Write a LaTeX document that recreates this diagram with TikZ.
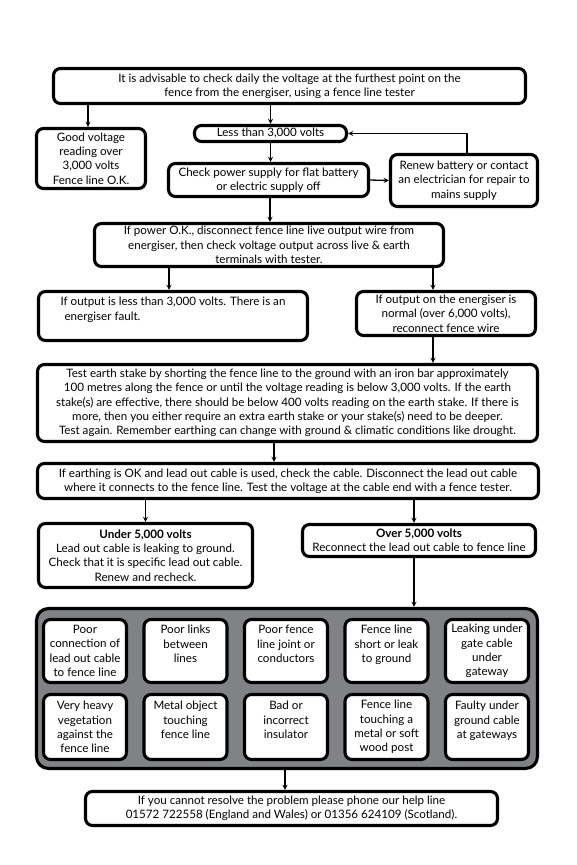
\documentclass[tikz,border=0pt]{standalone}
\usepackage{fontspec}
\setmainfont{Lato}
\definecolor{panelgray}{RGB}{128,130,133}
\begin{document}
\begin{tikzpicture}[x=1pt, y=-1pt, line join=round, >=stealth, font=\fontsize{11.6}{14.3}\selectfont]

		\tikzset{box/.style={draw, line width=3.1pt, rounded corners=7pt, fill=white, align=center, inner sep=1pt},
			cell/.style={box, minimum width=83pt},
			link/.style={->, line width=1.3pt}}

		\useasboundingbox (0,0) rectangle (577,865);

		\node[box, minimum width=472pt, minimum height=35pt] (tester) at (289.5,86) {It is advisable to check daily the voltage at the furthest point on the\\ fence from the energiser, using a fence line tester};
		\node[box, minimum width=109pt, minimum height=60pt] (good) at (91,158.5) {Good voltage\\ reading over\\ 3,000 volts\\ Fence line O.K.};
		\node[box, minimum width=152pt, minimum height=16pt, inner sep=0pt] (less) at (270.5,133.5) {Less than 3,000 volts};
		\node[box, minimum width=200pt, minimum height=33pt] (check) at (268.5,180) {Check power supply for flat battery\\ or electric supply off};
		\node[box, minimum width=147pt, minimum height=52pt] (renew) at (464,180.5) {Renew battery or contact\\ an electrician for repair to\\ mains supply};
		\node[box, minimum width=349pt, minimum height=43pt] (power) at (269,245) {If power O.K., disconnect fence line live output wire from\\ energiser, then check voltage output across live \& earth\\ terminals with tester.};
		\node[box, align=left, minimum width=269pt, minimum height=49pt] (lowout) at (173,316) {If output is less than 3,000 volts. There is an\\ \hspace*{4pt}energiser fault.\\ ~};
		\node[box, minimum width=179pt, minimum height=44pt] (normal) at (446,313.5) {If output on the energiser is\\ normal (over 6,000 volts),\\ reconnect fence wire};
		\node[box, minimum width=500pt, minimum height=77pt, inner sep=0pt] (earth) at (287.5,403) {Test earth stake by shorting the fence line to the ground with an iron bar approximately\\ 100 metres along the fence or until the voltage reading is below 3,000 volts. If the earth\\ stake(s) are effective, there should be below 400 volts reading on the earth stake. If there is\\ more, then you either require an extra earth stake or your stake(s) need to be deeper.\\ Test again. Remember earthing can change with ground \& climatic conditions like drought.};
		\node[box, minimum width=501pt, minimum height=35pt] (cable) at (288,481) {If earthing is OK and lead out cable is used, check the cable. Disconnect the lead out cable\\ where it connects to the fence line. Test the voltage at the cable end with a fence tester.};
		\node[box, minimum width=214pt, minimum height=64pt] (under) at (145.5,555.5) {\textbf{Under 5,000 volts}\\ Lead out cable is leaking to ground.\\ Check that it is specific lead out cable.\\ Renew and recheck.};
		\node[box, minimum width=233pt, minimum height=32pt, inner sep=0pt] (over) at (419,540.5) {\textbf{Over 5,000 volts}\\ Reconnect the lead out cable to fence line};

		\node[box, fill=panelgray, rounded corners=12pt, minimum width=501pt, minimum height=160pt] (panel) at (287,688.5) {};
		\node[cell, minimum height=63pt] (c1) at (85,651) {Poor\\ connection of\\ lead out cable\\ to fence line};
		\node[cell, minimum height=63pt] (c2) at (185.5,651) {Poor links\\ between\\ lines\\ ~};
		\node[cell, minimum height=63pt] (c3) at (286,651) {Poor fence\\ line joint or\\ conductors\\ ~};
		\node[cell, minimum height=63pt] (c4) at (386.5,651) {Fence line\\ short or leak\\ to ground\\ ~};
		\node[cell, minimum height=63pt, inner sep=0pt] (c5) at (487,651) {Leaking under\\ gate cable\\ under\\ gateway};
		\node[cell, minimum height=65pt] (c6) at (85,727) {Very heavy\\ vegetation\\ against the\\ fence line};
		\node[cell, minimum height=65pt, inner sep=0pt] (c7) at (185.5,727) {Metal object\\ touching\\ fence line\\ ~};
		\node[cell, minimum height=65pt] (c8) at (286,727) {Bad or\\ incorrect\\ insulator\\ ~};
		\node[cell, minimum height=65pt] (c9) at (386.5,727) {Fence line\\ touching a\\ metal or soft\\ wood post};
		\node[cell, minimum height=65pt] (c10) at (487,727) {Faulty under\\ ground cable\\ at gateways\\ ~};

		\node[box, minimum width=412pt, minimum height=34pt] (helpline) at (291.5,808.5) {If you cannot resolve the problem please phone our help line\\ 01572 722558 (England and Wales) or 01356 624109 (Scotland).};

		\draw[link] ([xshift=-3pt]good.north |- tester.south) -- ([xshift=-3pt]good.north);
		\draw[link] (less.north |- tester.south) -- (less.north);
		\draw[link] (less.south) -- (less.south |- check.north);
		\draw[link] (check.east) -- (renew.west);
		\draw[link] ([xshift=3pt]renew.north) |- (less.east);
		\draw[link] ([xshift=1.5pt]check.south) -- ([xshift=1.5pt]check.south |- power.north);
		\draw[link] ([xshift=-4pt]lowout.north |- power.south) -- ([xshift=-4pt]lowout.north);
		\draw[link] ([xshift=-13pt]normal.north |- power.south) -- ([xshift=-13pt]normal.north);
		\draw[link] ([xshift=-13pt]normal.south) -- ([xshift=-13pt]normal.south |- earth.north);
		\draw[link] ([xshift=-13.5pt]earth.south) -- ([xshift=-13.5pt]earth.south |- cable.north);
		\draw[link] (under.north |- cable.south) -- (under.north);
		\draw[link] ([xshift=-5pt]over.north |- cable.south) -- ([xshift=-5pt]over.north);
		\draw[link] ([xshift=-5pt]over.south) -- ([xshift=-5pt]over.south |- panel.north);
		\draw[link] ([xshift=-2pt]panel.south) -- ([xshift=-2pt]panel.south |- helpline.north);
		\end{tikzpicture}
\end{document}
